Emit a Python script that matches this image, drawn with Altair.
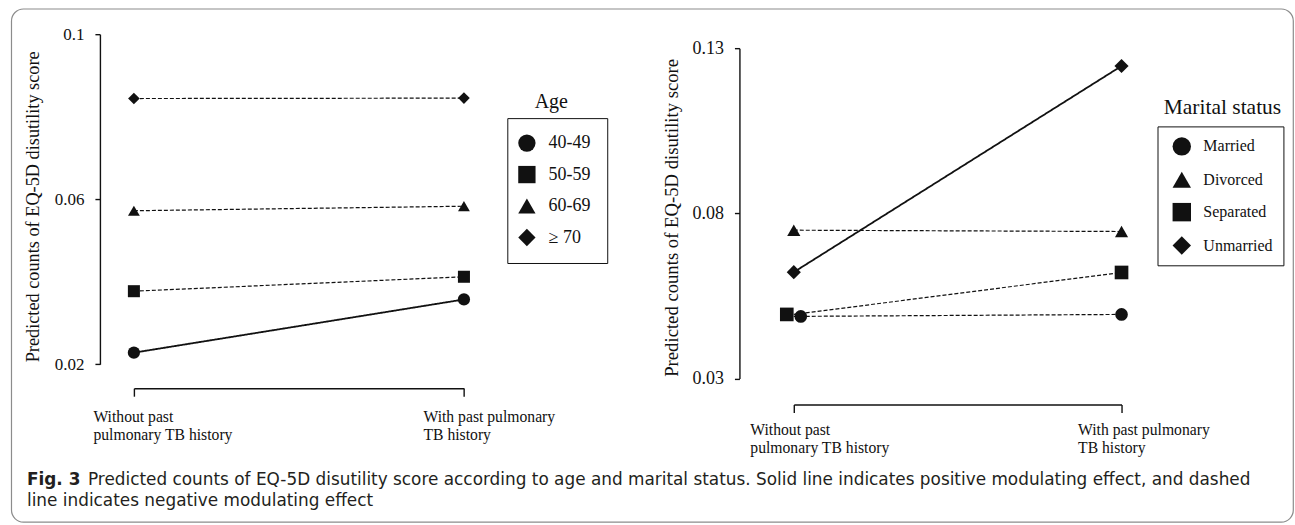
import json

import altair as alt
import pandas as pd

# ---------------- data ----------------
STAGES = ["Without past\npulmonary TB history", "With past pulmonary\nTB history"]

AGE_GROUPS = ["40-49", "50-59", "60-69", "≥ 70"]
AGE_WITHOUT_TB = [0.0228, 0.0377, 0.0572, 0.0844]
AGE_WITH_TB = [0.0357, 0.0412, 0.0583, 0.0845]
AGE_EFFECT = ["positive", "negative", "negative", "negative"]
AGE_TICKS = [0.02, 0.06, 0.1]
AGE_DOMAIN = [0.02, 0.1]

MARITAL_GROUPS = ["Married", "Divorced", "Separated", "Unmarried"]
MARITAL_WITHOUT_TB = [0.0488, 0.0749, 0.0494, 0.0622]
MARITAL_WITH_TB = [0.0494, 0.0745, 0.0621, 0.1246]
MARITAL_EFFECT = ["negative", "negative", "negative", "positive"]
MARITAL_TICKS = [0.03, 0.08, 0.13]
MARITAL_DOMAIN = [0.03, 0.13]

Y_TITLE = "Predicted counts of EQ-5D disutility score"
CAPTION_LABEL = "Fig. 3"
CAPTION_LINES = [
    "Predicted counts of EQ-5D disutility score according to age and marital status. "
    "Solid line indicates positive modulating effect, and dashed",
    "line indicates negative modulating effect",
]

# ---------------- style ----------------
INK = "#111111"
CAPTION_INK = "#231f20"
SERIF = "Liberation Serif"
SANS = "DejaVu Sans"
CAPTION_SIZE = 16.9
EFFECTS = ["positive", "negative"]
DASHES = [[1, 0], [4, 2]]
LINE_WIDTHS = [1.8, 1.2]

AGE_SHAPES = ["circle", "square", "triangle-up", "diamond"]
AGE_SIZES = [150, 135, 245, 275]
MARITAL_SHAPES = ["circle", "triangle-up", "square", "diamond"]
MARITAL_SIZES = [160, 200, 130, 200]

LEFT = dict(width=330.3, height=330.3, y_top=0, y_bottom=330.3, x_offset=24, x_label_pad=13.5,
            x_label_shift=-41,
            y_offset=34, y_label_pad=11, y_label_size=17, y_title_size=18.3, title_x=-66, title_y=172.3,
            legend_x=373.7, legend_y=84, legend_pad=16, legend_symbol=300, legend_symbol_offset=-5.4,
            legend_label_offset=12.7, legend_row_pad=13.5, legend_label_size=18,
            lt_x=417.7, lt_y=68, lt_size=20)
RIGHT = dict(width=328, height=344.6, y_top=14, y_bottom=344.6, x_offset=26, x_label_pad=10,
             x_label_shift=-44,
             y_offset=54.4, y_label_pad=11, y_label_size=18, y_title_size=18.7, title_x=-68.3, title_y=183.3,
             legend_x=364, legend_y=92.3, legend_pad=10.5, legend_symbol=340, legend_symbol_offset=4.3,
             legend_label_offset=12.1, legend_row_pad=14.4, legend_label_size=16,
             lt_x=429, lt_y=74, lt_size=21.5)

# left-end markers that sit slightly apart so overlapping points stay readable
MARITAL_NUDGES = [("Separated", 0, -7), ("Married", 0, 7)]


def long_table(groups, without_tb, with_tb, effects):
    rows = []
    for g, a, b, e in zip(groups, without_tb, with_tb, effects):
        for step, v in enumerate((a, b)):
            rows.append({"group": g, "stage": STAGES[step], "step": step, "value": v, "effect": e})
    return pd.DataFrame(rows)


def text_layer(text, x, y, **style):
    return alt.Chart(pd.DataFrame({"t": [text]})).mark_text(**style).encode(
        text="t:N", x=alt.value(x), y=alt.value(y)
    )


def panel(table, groups, shapes, sizes, ticks, domain, legend_title, lay, nudges=(), extras=()):
    W = lay["width"]
    x = alt.X(
        "stage:N", sort=STAGES,
        scale=alt.Scale(type="point", domain=STAGES, range=[0, W], padding=0),
        axis=alt.Axis(title=None, offset=lay["x_offset"], grid=False, domainColor=INK, domainWidth=1.4,
                      tickColor=INK, tickWidth=1.4, tickSize=8, labelAngle=0, labelAlign="left",
                      labelBaseline="top", labelOffset=lay["x_label_shift"], labelPadding=lay["x_label_pad"],
                      labelFont=SERIF, labelFontSize=15.7, labelLineHeight=18, labelColor=INK,
                      labelExpr="split(datum.label, '\\n')"),
    )
    y = alt.Y(
        "value:Q",
        scale=alt.Scale(domain=domain, range=[lay["y_bottom"], lay["y_top"]], nice=False, zero=False),
        axis=alt.Axis(values=ticks, format=".2~f", offset=lay["y_offset"], grid=False,
                      domainColor=INK, domainWidth=1.4, tickColor=INK, tickWidth=1.4, tickSize=5,
                      labelPadding=lay["y_label_pad"], labelFont=SERIF, labelFontSize=lay["y_label_size"],
                      labelColor=INK, labelOverlap=False, title=Y_TITLE, titleFont=SERIF,
                      titleFontSize=lay["y_title_size"], titleFontWeight="normal", titleColor=INK,
                      titleX=lay["title_x"], titleY=lay["title_y"], titleBaseline="middle"),
    )
    legend = alt.Legend(title=None, orient="none", legendX=lay["legend_x"], legendY=lay["legend_y"],
                        direction="vertical", strokeColor=INK, padding=lay["legend_pad"],
                        symbolSize=lay["legend_symbol"], symbolOffset=lay["legend_symbol_offset"],
                        symbolFillColor=INK, symbolStrokeWidth=0,
                        labelOffset=lay["legend_label_offset"], rowPadding=lay["legend_row_pad"],
                        labelFont=SERIF, labelFontSize=lay["legend_label_size"], labelColor=INK)
    shape = alt.Shape("group:N", scale=alt.Scale(domain=groups, range=shapes), legend=legend)
    # marker size keyed on the group's position, so its scale stays apart from the shape legend
    size = alt.Size("marker:O", scale=alt.Scale(domain=list(range(len(groups))), range=sizes), legend=None)

    base = alt.Chart(table).transform_calculate(marker=f"indexof({json.dumps(groups)}, datum.group)")
    lines = alt.Chart(table).mark_line(color=INK).encode(
        x=x, y=y, detail="group:N",
        strokeDash=alt.StrokeDash("effect:N", scale=alt.Scale(domain=EFFECTS, range=DASHES), legend=None),
        strokeWidth=alt.StrokeWidth("effect:N", scale=alt.Scale(domain=EFFECTS, range=LINE_WIDTHS), legend=None),
    )
    keep = " && ".join(f"!(datum.group == '{g}' && datum.step == {s})" for g, s, _ in nudges) or "true"
    points = base.transform_filter(keep).mark_point(filled=True, color=INK, opacity=1).encode(
        x=x, y=y, shape=shape, size=size
    )
    layers = [lines, points]
    for g, s, dx in nudges:
        layers.append(
            base.transform_filter(f"datum.group == '{g}' && datum.step == {s}")
            .mark_point(filled=True, color=INK, opacity=1, xOffset=dx)
            .encode(x=x, y=y, shape=shape, size=size)
        )
    layers.append(text_layer(legend_title, lay["lt_x"], lay["lt_y"], align="center", baseline="middle",
                             font=SERIF, fontSize=lay["lt_size"], color=INK))
    layers.extend(extras)
    return alt.layer(*layers).properties(width=W, height=lay["height"])


# figure frame and caption, placed relative to the left panel's plot area
frame = alt.Chart(pd.DataFrame({"k": [0]})).mark_rect(
    fillOpacity=0, stroke="#8c8c8c", strokeWidth=1.2, cornerRadius=12
).encode(x=alt.value(-122.5), x2=alt.value(1160.3), y=alt.value(-25.2), y2=alt.value(488.3))
caption = [
    text_layer(CAPTION_LABEL, -107, 451.3, align="left", baseline="alphabetic", font=SANS,
               fontSize=CAPTION_SIZE, fontWeight="bold", color=CAPTION_INK),
    text_layer(CAPTION_LINES[0], -46, 451.3, align="left", baseline="alphabetic", font=SANS,
               fontSize=CAPTION_SIZE, color=CAPTION_INK),
    text_layer(CAPTION_LINES[1], -107, 472.3, align="left", baseline="alphabetic", font=SANS,
               fontSize=CAPTION_SIZE, color=CAPTION_INK),
]

age_panel = panel(long_table(AGE_GROUPS, AGE_WITHOUT_TB, AGE_WITH_TB, AGE_EFFECT),
                  AGE_GROUPS, AGE_SHAPES, AGE_SIZES, AGE_TICKS, AGE_DOMAIN, "Age", LEFT,
                  extras=[frame] + caption)
marital_panel = panel(long_table(MARITAL_GROUPS, MARITAL_WITHOUT_TB, MARITAL_WITH_TB, MARITAL_EFFECT),
                      MARITAL_GROUPS, MARITAL_SHAPES, MARITAL_SIZES, MARITAL_TICKS, MARITAL_DOMAIN,
                      "Marital status", RIGHT, nudges=MARITAL_NUDGES)

chart = (
    alt.hconcat(age_panel, marital_panel, spacing=329.4, bounds="flush")
    .resolve_scale(x="independent", y="independent", shape="independent", size="independent",
                   strokeDash="independent", strokeWidth="independent")
    .properties(padding={"left": 10, "top": 8, "right": 1, "bottom": 2}, background="white")
    .configure_view(stroke=None)
)

chart.save("out.html", embed_options={"renderer": "svg", "actions": False})
